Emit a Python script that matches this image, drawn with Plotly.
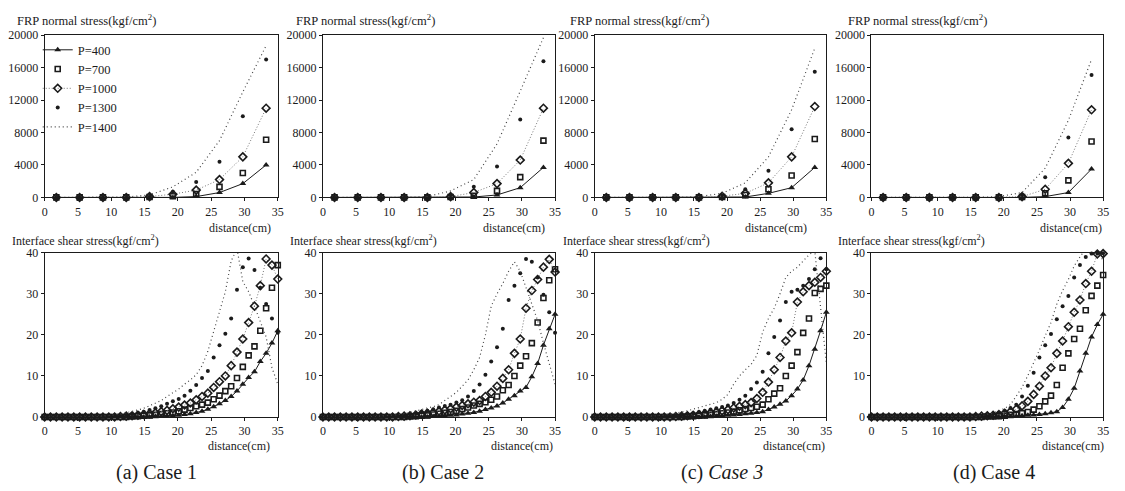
import plotly.graph_objects as go

# load levels (kgf)
pressures = ["P=400", "P=700", "P=1000", "P=1300", "P=1400"]

# FRP normal stress: sample nodes along the plate (cm)
x_top = [1.75, 5.25, 8.75, 12.25, 15.75, 19.25, 22.75, 26.25, 29.75, 33.25]

# rows ordered P=400, 700, 1000, 1300, 1400
normal_case1 = [
    [0, 0, 0, 0, 0, 0, 100, 600, 1700, 4000],
    [0, 0, 0, 0, 50, 150, 400, 1300, 3000, 7100],
    [0, 0, 0, 0, 100, 400, 900, 2200, 5000, 11000],
    [0, 0, 0, 0, 150, 700, 1900, 4400, 10000, 17000],
    [0, 0, 0, 50, 300, 1300, 3100, 7000, 13000, 18700],
]
normal_case2 = [
    [0, 0, 0, 0, 0, 0, 50, 300, 1200, 3700],
    [0, 0, 0, 0, 0, 50, 200, 800, 2500, 7000],
    [0, 0, 0, 0, 0, 100, 600, 1700, 4600, 11000],
    [0, 0, 0, 0, 50, 300, 1300, 3800, 9600, 16800],
    [0, 0, 0, 0, 100, 800, 2200, 6600, 13100, 19700],
]
normal_case3 = [
    [0, 0, 0, 0, 0, 0, 50, 500, 1200, 3700],
    [0, 0, 0, 0, 0, 50, 300, 1000, 2700, 7200],
    [0, 0, 0, 0, 0, 150, 500, 1800, 5000, 11200],
    [0, 0, 0, 0, 50, 300, 1000, 3300, 8400, 15500],
    [0, 0, 0, 0, 100, 500, 1800, 5000, 10800, 18400],
]
normal_case4 = [
    [0, 0, 0, 0, 0, 0, 0, 100, 600, 3500],
    [0, 0, 0, 0, 0, 0, 50, 500, 2100, 6900],
    [0, 0, 0, 0, 0, 0, 100, 1000, 4200, 10800],
    [0, 0, 0, 0, 0, 50, 300, 2500, 7400, 15100],
    [0, 0, 0, 0, 0, 100, 600, 3600, 9500, 17000],
]

# interface shear stress: denser node spacing
x_bot = [0, 0.875, 1.75, 2.625, 3.5, 4.375, 5.25, 6.125, 7.0, 7.875,
         8.75, 9.625, 10.5, 11.375, 12.25, 13.125, 14.0, 14.875, 15.75, 16.625,
         17.5, 18.375, 19.25, 20.125, 21.0, 21.875, 22.75, 23.625, 24.5, 25.375,
         26.25, 27.125, 28.0, 28.875, 29.75, 30.625, 31.5, 32.375, 33.25, 34.125, 35.0]

shear_case1 = [
    [0, 0, 0, 0, 0, 0, 0, 0, 0, 0, 0, 0, 0, 0, 0, 0, 0, 0, 0, 0.1,
     0.1, 0.2, 0.3, 0.4, 0.6, 0.8, 1.1, 1.4, 1.9, 2.5, 3.2, 4.0, 5.0, 6.3, 8.0, 9.6,
     11.0, 13.5, 15.5, 18.0, 21.0],
    [0, 0, 0, 0, 0, 0, 0, 0, 0, 0, 0, 0, 0, 0, 0, 0.1, 0.2, 0.3, 0.4, 0.5,
     0.7, 0.9, 1.1, 1.4, 1.8, 2.2, 2.6, 3.0, 3.5, 4.3, 5.2, 6.3, 7.5, 9.5, 12.2, 15.0,
     17.2, 21.0, 26.5, 31.5, 37.0],
    [0, 0, 0, 0, 0, 0, 0, 0, 0, 0, 0, 0, 0, 0.1, 0.2, 0.3, 0.4, 0.6, 0.8, 1.0,
     1.3, 1.6, 2.0, 2.4, 2.9, 3.4, 4.2, 5.0, 5.8, 7.2, 8.6, 10.0, 12.5, 15.8, 19.0, 23.0,
     27.0, 32.0, 38.5, 37.0, 33.6],
    [0, 0, 0, 0, 0, 0, 0, 0, 0, 0, 0, 0.1, 0.2, 0.3, 0.5, 0.7, 1.0, 1.3, 1.7, 2.1,
     2.6, 3.2, 3.8, 4.4, 5.2, 6.4, 7.8, 9.5, 11.2, 14.5, 17.5, 20.3, 24.0, 31.0, 36.5, 38.6,
     35.8, 31.5, 27.5, 24.0, 20.5],
    [0, 0, 0, 0, 0, 0, 0, 0, 0, 0.1, 0.2, 0.3, 0.5, 0.7, 1.0, 1.3, 1.7, 2.1, 2.7, 3.3,
     4.0, 5.0, 5.8, 6.8, 8.0, 9.0, 10.3, 12.5, 16.0, 21.0, 26.0, 30.5, 38.0, 41.0, 33.0, 30.5,
     27.0, 23.0, 19.5, 12.0, 8.0],
]
shear_case2 = [
    [0, 0, 0, 0, 0, 0, 0, 0, 0, 0, 0, 0, 0, 0, 0, 0, 0, 0, 0, 0.1,
     0.2, 0.3, 0.4, 0.5, 0.7, 0.9, 1.1, 1.4, 1.8, 2.2, 2.7, 3.4, 4.3, 5.2, 6.3, 7.2,
     9.8, 13.0, 17.5, 21.5, 25.0],
    [0, 0, 0, 0, 0, 0, 0, 0, 0, 0, 0, 0, 0, 0, 0, 0.1, 0.2, 0.3, 0.4, 0.6,
     0.8, 1.0, 1.2, 1.5, 1.9, 2.3, 2.8, 3.2, 3.6, 4.2, 5.0, 6.5, 7.8, 10.0, 12.5, 14.8,
     18.0, 23.0, 29.0, 33.3, 36.0],
    [0, 0, 0, 0, 0, 0, 0, 0, 0, 0, 0, 0, 0, 0.1, 0.2, 0.3, 0.5, 0.7, 0.9, 1.1,
     1.4, 1.7, 2.0, 2.4, 2.8, 3.2, 3.6, 4.0, 5.0, 6.0, 7.5, 9.4, 11.5, 15.5, 19.0, 26.5,
     30.8, 33.5, 36.5, 38.4, 35.3],
    [0, 0, 0, 0, 0, 0, 0, 0, 0, 0, 0, 0.1, 0.2, 0.3, 0.4, 0.6, 0.9, 1.2, 1.5, 1.9,
     2.3, 2.7, 3.0, 3.5, 4.1, 5.0, 6.3, 7.9, 10.3, 13.5, 17.0, 21.5, 28.5, 32.0, 35.0, 38.5,
     37.8, 34.0, 29.8, 25.5, 20.5],
    [0, 0, 0, 0, 0, 0, 0, 0, 0, 0.1, 0.2, 0.3, 0.4, 0.6, 0.8, 1.1, 1.4, 1.8, 2.2, 2.5,
     3.0, 4.0, 5.0, 6.0, 7.5, 9.0, 11.5, 14.5, 20.0, 27.0, 30.0, 32.5, 35.5, 37.8, 35.5, 31.5,
     28.0, 23.5, 18.0, 13.0, 8.0],
]
shear_case3 = [
    [0, 0, 0, 0, 0, 0, 0, 0, 0, 0, 0, 0, 0, 0, 0, 0, 0, 0, 0, 0,
     0.1, 0.2, 0.3, 0.4, 0.5, 0.6, 0.8, 0.9, 1.1, 1.3, 1.8, 2.4, 3.1, 3.9, 5.2, 6.8,
     9.0, 12.5, 16.5, 21.0, 25.5],
    [0, 0, 0, 0, 0, 0, 0, 0, 0, 0, 0, 0, 0, 0, 0, 0, 0.1, 0.2, 0.3, 0.4,
     0.5, 0.7, 0.9, 1.1, 1.3, 1.6, 1.9, 2.2, 2.5, 3.0, 4.3, 5.7, 7.0, 10.0, 12.5, 15.8,
     20.5, 24.0, 30.2, 31.2, 32.0],
    [0, 0, 0, 0, 0, 0, 0, 0, 0, 0, 0, 0, 0, 0, 0.1, 0.2, 0.3, 0.4, 0.6, 0.8,
     1.0, 1.2, 1.5, 1.8, 2.2, 2.6, 3.0, 3.5, 4.5, 6.0, 8.5, 11.5, 14.5, 18.5, 20.5, 28.0,
     30.5, 32.0, 32.8, 34.0, 35.5],
    [0, 0, 0, 0, 0, 0, 0, 0, 0, 0, 0, 0, 0.1, 0.2, 0.3, 0.5, 0.7, 0.9, 1.2, 1.5,
     1.8, 2.1, 2.4, 2.8, 3.4, 4.2, 5.2, 6.8, 8.4, 11.0, 15.5, 19.5, 23.5, 28.0, 30.5, 31.0,
     32.0, 33.6, 36.0, 38.7, 36.0],
    [0, 0, 0, 0, 0, 0, 0, 0, 0, 0.1, 0.2, 0.3, 0.5, 0.7, 0.9, 1.2, 1.5, 1.9, 2.3, 2.7,
     3.1, 3.5, 4.3, 5.5, 8.0, 10.0, 11.5, 12.8, 15.0, 20.7, 24.0, 26.5, 30.0, 34.0, 35.5, 36.5,
     38.0, 39.5, 40.5, 27.0, 13.0],
]
shear_case4 = [
    [0, 0, 0, 0, 0, 0, 0, 0, 0, 0, 0, 0, 0, 0, 0, 0, 0, 0, 0, 0,
     0, 0, 0, 0.1, 0.1, 0.2, 0.3, 0.4, 0.5, 0.6, 0.8, 1.0, 1.3, 2.3, 4.3, 7.0,
     11.2, 15.5, 19.5, 22.5, 25.0],
    [0, 0, 0, 0, 0, 0, 0, 0, 0, 0, 0, 0, 0, 0, 0, 0, 0, 0, 0, 0,
     0.1, 0.1, 0.2, 0.3, 0.5, 0.7, 0.9, 1.2, 1.8, 2.6, 3.8, 5.2, 7.8, 12.0, 15.5, 19.0,
     21.5, 26.0, 29.5, 32.0, 34.6],
    [0, 0, 0, 0, 0, 0, 0, 0, 0, 0, 0, 0, 0, 0, 0, 0, 0, 0, 0.1, 0.2,
     0.3, 0.4, 0.6, 0.9, 1.3, 1.9, 2.7, 3.8, 5.5, 7.5, 10.0, 12.0, 15.5, 18.5, 22.0, 25.5,
     28.5, 32.5, 35.5, 39.7, 39.8],
    [0, 0, 0, 0, 0, 0, 0, 0, 0, 0, 0, 0, 0, 0, 0, 0, 0, 0, 0.1, 0.2,
     0.4, 0.7, 1.0, 1.5, 2.2, 3.0, 5.0, 7.6, 10.8, 14.5, 17.5, 20.2, 23.8, 27.0, 29.5, 34.0,
     37.0, 39.0, 39.8, 39.8, 39.9],
    [0, 0, 0, 0, 0, 0, 0, 0, 0, 0, 0, 0, 0, 0, 0, 0, 0, 0, 0.1, 0.3,
     0.6, 1.0, 1.5, 2.1, 3.0, 5.0, 7.2, 10.1, 13.0, 16.3, 19.8, 23.0, 27.5, 30.8, 33.5, 36.8,
     39.0, 41.0, 42.0, 41.0, 38.0],
]

captions = ["(a) Case 1", "(b) Case 2", "(c) <i>Case 3</i>", "(d) Case 4"]

INK = "#1b1b1b"
SERIF = "Liberation Serif, Times New Roman, serif"

# series look, in the same order as pressures
styles = [
    dict(mode="lines+markers", line=dict(color=INK, width=1),
         marker=dict(symbol="triangle-up", size=6, color=INK)),
    dict(mode="markers",
         marker=dict(symbol="square-open", size=5, color=INK, line=dict(width=1.6, color=INK))),
    dict(mode="lines+markers", line=dict(color="#777", width=1, dash="1px,2px"),
         marker=dict(symbol="diamond-open", size=6, color=INK, line=dict(width=1.6, color=INK))),
    dict(mode="markers", marker=dict(symbol="circle", size=4, color=INK)),
    dict(mode="lines", line=dict(color="#444", width=1.2, dash="1px,3px")),
]

# figure fills the window exactly (body margin removed after load)
W, H = 1125, 491


def fx(x):
    return x / W


def fy(y):
    return 1 - y / H


col_px = [(42, 277), (322.5, 556.5), (596.5, 830), (875.5, 1109)]
top_px = (196, 29)
bot_px = (422, 253)

fig = go.Figure()

normals = [normal_case1, normal_case2, normal_case3, normal_case4]
shears = [shear_case1, shear_case2, shear_case3, shear_case4]

axis_common = dict(showline=True, linecolor=INK, linewidth=1, mirror=True,
                   ticks="outside", ticklen=3, tickcolor=INK, showgrid=False,
                   zeroline=False, tickformat="d",
                   tickfont=dict(family=SERIF, size=12, color=INK))

layout_axes = {}
for c in range(4):
    for row in range(2):
        n = c + 1 + 4 * row
        sfx = "" if n == 1 else str(n)
        xs = x_top if row == 0 else x_bot
        data = normals[c] if row == 0 else shears[c]
        for k, name in enumerate(pressures):
            st = styles[k]
            fig.add_trace(go.Scatter(
                x=xs, y=data[k], name=name, xaxis="x" + sfx, yaxis="y" + sfx,
                showlegend=(n == 1), cliponaxis=(k == 4), **st))
        xd = [fx(col_px[c][0]), fx(col_px[c][1])]
        yp = top_px if row == 0 else bot_px
        yd = [fy(yp[0]), fy(yp[1])]
        layout_axes["xaxis" + sfx] = dict(axis_common, domain=xd, range=[0, 35],
                                         tickvals=[0, 5, 10, 15, 20, 25, 30, 35],
                                         anchor="y" + sfx)
        if row == 0:
            layout_axes["yaxis" + sfx] = dict(axis_common, domain=yd, range=[0, 20000],
                                             tickvals=[0, 4000, 8000, 12000, 16000, 20000],
                                             anchor="x" + sfx)
        else:
            layout_axes["yaxis" + sfx] = dict(axis_common, domain=yd, range=[0, 40],
                                             tickvals=[0, 10, 20, 30, 40],
                                             anchor="x" + sfx)

ann = []


def label(text, x, y, size=12, xanchor="left", yanchor="middle"):
    ann.append(dict(text=text, x=fx(x), y=fy(y), xref="paper", yref="paper",
                    xanchor=xanchor, yanchor=yanchor, showarrow=False,
                    font=dict(family=SERIF, size=size, color=INK)))


top_title_x = [12, 293, 570, 850]
bot_title_x = [7, 287, 563, 840]
top_dist_x = [272, 548, 812, 1110]
bot_dist_x = [271, 556, 831, 1112]
cap_x = [155, 444, 725, 999]
for c in range(4):
    label("FRP normal stress(kgf/cm<sup>2</sup>)", top_title_x[c], 13, 12.5)
    label("Interface shear stress(kgf/cm<sup>2</sup>)", bot_title_x[c], 240, 12)
    label("distance(cm)", top_dist_x[c], 227, 12, xanchor="right")
    label("distance(cm)", bot_dist_x[c], 452, 12, xanchor="right")
    label(captions[c], cap_x[c], 479, 20, xanchor="center")

fig.update_layout(
    width=W, height=H, margin=dict(l=0, r=0, t=0, b=0),
    paper_bgcolor="white", plot_bgcolor="white",
    annotations=ann,
    legend=dict(x=fx(35), y=fy(29), xanchor="left", yanchor="top",
                bgcolor="rgba(0,0,0,0)", font=dict(family=SERIF, size=12.5, color=INK),
                itemwidth=30, tracegroupgap=0),
    **layout_axes,
)

fig.write_html("out.html", config={"displayModeBar": False},
               post_script="document.body.style.margin='0';document.body.style.overflow='hidden';")
